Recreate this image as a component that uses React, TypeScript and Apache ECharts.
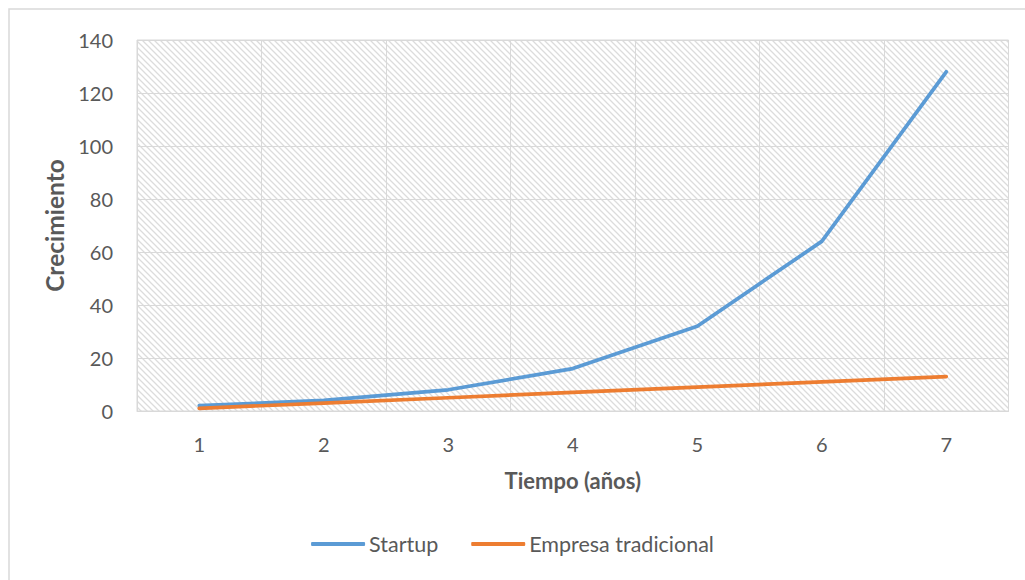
import React, { useEffect, useRef } from "react";
import * as echarts from "echarts";

const categories = ["1", "2", "3", "4", "5", "6", "7"];
const startup = [2, 4, 8, 16, 32, 64, 128];
const tradicional = [1, 3, 5, 7, 9, 11, 13];
const yTicks = { min: 0, max: 140, interval: 20 };

function makePattern(): HTMLCanvasElement {
  const s = 6;
  const c = document.createElement("canvas");
  c.width = s;
  c.height = s;
  const ctx = c.getContext("2d")!;
  ctx.fillStyle = "#ffffff";
  ctx.fillRect(0, 0, s, s);
  ctx.strokeStyle = "#dcdcdc";
  ctx.lineWidth = 1.3;
  ctx.beginPath();
  ctx.moveTo(-2, -2);
  ctx.lineTo(s + 2, s + 2);
  ctx.moveTo(-s - 2, -2);
  ctx.lineTo(2, s + 2);
  ctx.moveTo(s - 2, -2);
  ctx.lineTo(2 * s + 2, s + 2);
  ctx.stroke();
  return c;
}

export default function App() {
  const ref = useRef<HTMLDivElement>(null);
  useEffect(() => {
    if (!ref.current) return;
    const chart = echarts.init(ref.current, undefined, { renderer: "svg" });
    const font = "Lato, 'Open Sans', sans-serif";
    chart.setOption({
      animation: false,
      backgroundColor: "#ffffff",
      textStyle: { fontFamily: font },
      graphic: [
        {
          type: "rect",
          shape: { x: 9, y: 9, width: 1030, height: 590 },
          style: { fill: "none", stroke: "#d9d9d9", lineWidth: 1.5 },
          silent: true,
          z: -1,
        },
      ],
      grid: {
        left: 137,
        right: 1025 - 1008.5,
        top: 40,
        bottom: 580 - 411,
        show: true,
        backgroundColor: { image: makePattern(), repeat: "repeat" } as any,
        borderColor: "#d9d9d9",
        borderWidth: 1,
      },
      legend: {
        bottom: 20,
        left: "center",
        itemWidth: 54,
        itemHeight: 4,
        itemGap: 33,
        icon: "roundRect",
        textStyle: { fontSize: 21.5, color: "#595959", fontFamily: font, padding: [0, 0, 0, -1] },
        data: ["Startup", "Empresa tradicional"],
      },
      xAxis: {
        type: "category",
        data: categories,
        boundaryGap: true,
        name: "Tiempo (años)",
        nameLocation: "middle",
        nameGap: 58,
        nameTextStyle: { fontSize: 22, fontWeight: "bold", color: "#595959", fontFamily: font },
        axisLine: { show: true, lineStyle: { color: "#d9d9d9", width: 1 } },
        axisTick: { show: false },
        axisLabel: { fontSize: 20, color: "#595959", margin: 23, fontFamily: font },
        splitLine: { show: true, lineStyle: { color: "#d9d9d9", width: 1 } },
      },
      yAxis: {
        type: "value",
        min: yTicks.min,
        max: yTicks.max,
        interval: yTicks.interval,
        name: "Crecimiento",
        nameLocation: "middle",
        nameGap: 64,
        nameTextStyle: { fontSize: 24.5, fontWeight: "bold", color: "#595959", fontFamily: font },
        axisLine: { show: false },
        axisTick: { show: false },
        axisLabel: { fontSize: 20, color: "#595959", margin: 24, fontFamily: font },
        splitLine: { show: true, lineStyle: { color: "#d9d9d9", width: 1 } },
      },
      series: [
        {
          name: "Startup",
          type: "line",
          data: startup,
          showSymbol: false,
          symbol: "none",
          itemStyle: { color: "#5b9bd5" },
          lineStyle: { color: "#5b9bd5", width: 3.7, cap: "round", join: "round" },
        },
        {
          name: "Empresa tradicional",
          type: "line",
          data: tradicional,
          showSymbol: false,
          symbol: "none",
          itemStyle: { color: "#ed7d31" },
          lineStyle: { color: "#ed7d31", width: 3.7, cap: "round", join: "round" },
        },
      ],
    });
    return () => chart.dispose();
  }, []);
  return (
    <div
      ref={ref}
      style={{ position: "fixed", left: 0, top: 0, width: 1025, height: 580 }}
    />
  );
}
